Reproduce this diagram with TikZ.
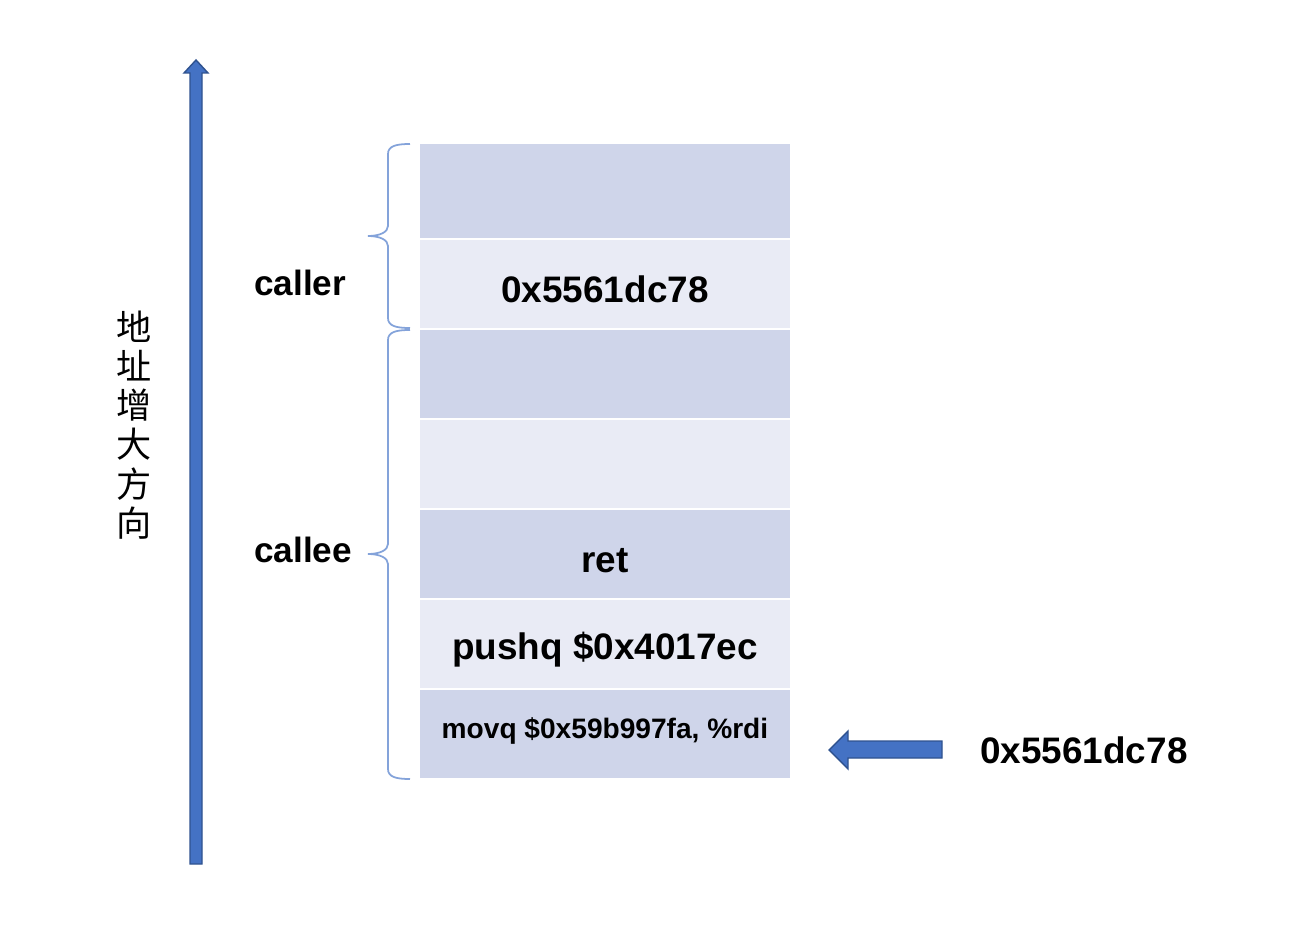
\documentclass[tikz,border=0pt]{standalone}
\usepackage{fontspec}
\setmainfont{Liberation Sans}
\newfontfamily\cjk{Noto Sans CJK SC}
\definecolor{stackDark}{HTML}{CFD5EA}
\definecolor{stackLight}{HTML}{E9EBF5}
\definecolor{arrowFill}{HTML}{4472C4}
\definecolor{arrowEdge}{HTML}{2F528F}
\definecolor{braceLine}{HTML}{84A3DA}

\begin{document}
\begin{tikzpicture}[
    x=0.02cm,y=-0.02cm,
    every node/.style={align=center,inner sep=0pt},
    slotdark/.style={fill=stackDark,minimum width=7.4cm,minimum height=1.76cm},
    slotlight/.style={fill=stackLight,minimum width=7.4cm,minimum height=1.76cm},
    codetext/.style={font=\fontsize{21}{25}\selectfont\bfseries},
    labeltext/.style={font=\fontsize{20}{24}\selectfont\bfseries,anchor=west},
    bigarrow/.style={fill=arrowFill,draw=arrowEdge,line width=0.8pt,line join=miter},
    stackbrace/.style={draw=braceLine,line width=1pt}
]
\useasboundingbox (0,0) rectangle (1305,932);

% stack slots
\node[slotdark,minimum height=1.88cm] (r1) at (605,191) {};
\node[slotlight] (r2) at (605,284) {};
\node[slotdark] (r3) at (605,374) {};
\node[slotlight] (r4) at (605,464) {};
\node[slotdark] (r5) at (605,554) {};
\node[slotlight] (r6) at (605,644) {};
\node[slotdark] (r7) at (605,734) {};

\node[codetext] (addr) at (605,289) {0x5561dc78};
\node[codetext] (ret) at (605,561) {ret};
\node[codetext] (push) at (605,650) {pushq \$0x4017ec};
\node[codetext,font=\fontsize{16}{19}\selectfont\bfseries] (movq) at (605,731) {movq \$0x59b997fa, \%rdi};

% braces
\draw[stackbrace] (410,144) .. controls (396,144) and (388,146) .. (388,154) -- (388,226)
    .. controls (388,232) and (380,236) .. (368,236) .. controls (380,236) and (388,240) .. (388,246)
    -- (388,318) .. controls (388,326) and (396,328) .. (410,328);
\draw[stackbrace] (410,330) .. controls (396,330) and (388,332) .. (388,340) -- (388,544)
    .. controls (388,550) and (380,554) .. (368,554) .. controls (380,554) and (388,558) .. (388,564)
    -- (388,769) .. controls (388,777) and (396,779) .. (410,779);
\node[labeltext] (caller) at (254,283) {caller};
\node[labeltext] (callee) at (254,550) {callee};

% address direction
\filldraw[bigarrow] (190,864) -- (202,864) -- (202,73) -- (208,73) -- (196,60)
    -- (184,73) -- (190,73) -- cycle;
\node[font=\cjk\fontsize{20}{22.3}\selectfont] (dir) at (134,425) {地\\址\\增\\大\\方\\向};

% pointer
\filldraw[bigarrow] (942,741) -- (848,741) -- (848,731) -- (829,750) -- (848,769)
    -- (848,758) -- (942,758) -- cycle;
\node[codetext,anchor=west] (sp) at (980,750) {0x5561dc78};
\end{tikzpicture}
\end{document}
